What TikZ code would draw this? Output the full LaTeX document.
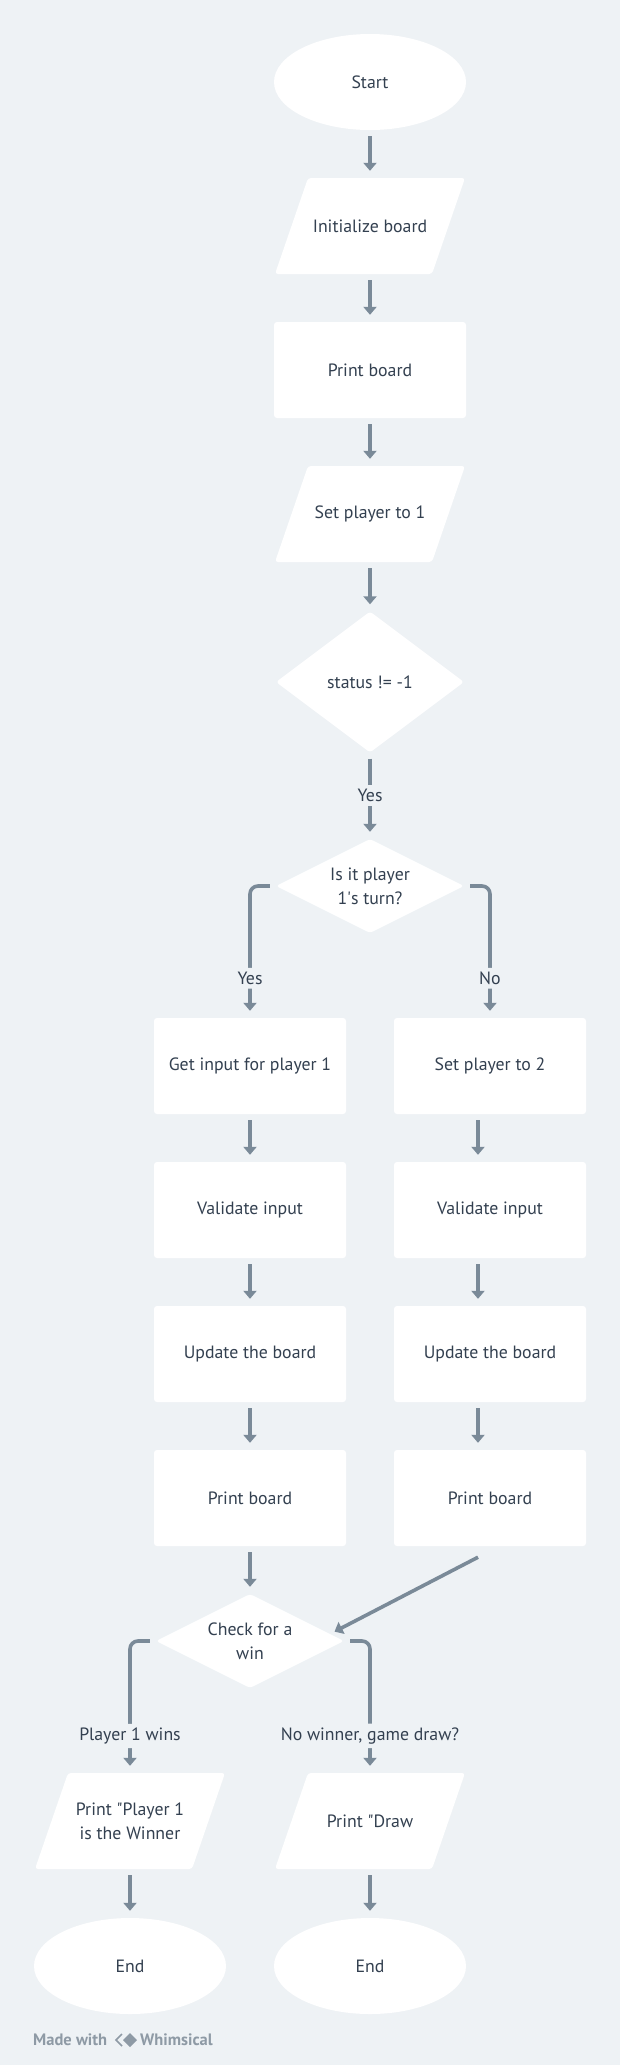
\documentclass[tikz,border=0pt]{standalone}
\usepackage{fontspec}
\setmainfont{PT Sans}
\usetikzlibrary{shapes.geometric, positioning, arrows.meta, calc}

\definecolor{bgc}{HTML}{EEF2F5}
\definecolor{linec}{HTML}{7A8A98}
\definecolor{textc}{HTML}{334050}
\definecolor{creditc}{HTML}{8E9AA5}

\tikzset{
  base/.style={fill=white, text=textc, font=\fontsize{17.8}{24}\selectfont, align=center, inner sep=1pt},
  terminal/.style={base, ellipse, minimum width=192pt, minimum height=96pt},
  process/.style={base, rectangle, rounded corners=3pt, minimum width=192pt, minimum height=96pt},
  iobox/.style={base, fill=none, rectangle, minimum width=190pt, minimum height=96pt,
    path picture={
      \fill[white, rounded corners=3pt] ([xshift=33pt]path picture bounding box.north west)
        -- (path picture bounding box.north east) -- ([xshift=-33pt]path picture bounding box.south east)
        -- (path picture bounding box.south west) -- cycle;
    }},
  decision/.style={base, diamond, shape aspect=2, rounded corners=3pt, minimum width=188pt, minimum height=94pt},
  arr/.style={draw=linec, line width=3.6pt, -{Triangle[width=13pt,length=8pt]}, shorten <=6pt, shorten >=7pt},
  elbow/.style={rounded corners=8pt},
  lbl/.style={fill=bgc, text=textc, font=\fontsize{17.8}{20}\selectfont, inner xsep=3pt, inner ysep=4pt},
  credit/.style={text=creditc, font=\fontsize{16.5}{18}\selectfont\bfseries, inner sep=0pt}
}

\begin{document}
\begin{tikzpicture}[x=1pt, y=-1pt]
% fond
\fill[bgc] (0,0) rectangle (620,2065);
\useasboundingbox (0,0) rectangle (620,2065);
% main column
\node[terminal] (start) at (370,82) {Start};
\node[iobox] (init) at (370,226) {Initialize board};
\node[process] (prt) at (370,370) {Print board};
\node[iobox] (setp) at (370,514) {Set player to 1};
\node[decision, minimum height=141pt] (stat) at (370,682) {status != -1};
\node[decision] (turn) at (370,886) {Is it player\\ 1\textquotesingle s turn?};
% two columns
\node[process] (inp1) at (250,1066) {Get input for player 1};
\node[process] (inp2) at (490,1066) {Set player to 2};
\foreach \c/\x in {1/250,2/490} {
  \node[process] (val\c) at (\x,1210) {Validate input};
  \node[process] (upd\c) at (\x,1354) {Update the board};
  \node[process] (prt\c) at (\x,1498) {Print board};
}
\node[decision] (win) at (250,1641) {Check for a\\ win};
\node[iobox] (msg1) at (130,1821) {Print \textquotedbl Player 1\\ is the Winner};
\node[iobox] (msg2) at (370,1821) {Print \textquotedbl Draw};
\node[terminal] (end1) at (130,1966) {End};
\node[terminal] (end2) at (370,1966) {End};
% edges
\draw[arr] (start) -- (init);
\draw[arr] (init) -- (prt);
\draw[arr] (prt) -- (setp);
\draw[arr] (setp) -- (stat);
\draw[arr] (stat) -- node[lbl] {Yes} (turn);
\draw[arr, elbow] (turn.west) -| node[lbl, pos=0.85] {Yes} (inp1);
\draw[arr, elbow] (turn.east) -| node[lbl, pos=0.85] {No} (inp2);
\foreach \a/\b in {inp1/val1, val1/upd1, upd1/prt1, prt1/win} {
  \draw[arr] (\a) -- (\b);
}
\foreach \a/\b in {inp2/val2, val2/upd2, upd2/prt2} {
  \draw[arr] ([xshift=-12pt]\a.south) -- ([xshift=-12pt]\b.north);
}
\draw[arr, shorten <=0pt, shorten >=5pt] ([xshift=-12pt,yshift=-11pt]prt2.south) -- ($(win.east)!0.15!(win.north)$);
\draw[arr, elbow] (win.west) -| node[lbl, pos=0.86] {Player 1 wins} (msg1);
\draw[arr, elbow] (win.east) -| node[lbl, pos=0.86] {No winner, game draw?} (msg2);
\draw[arr] (msg1) -- (end1);
\draw[arr] (msg2) -- (end2);
% credit
\node[credit, anchor=west] (made) at (33,2040) {Made with};
\draw[creditc, line width=1.6pt] (122,2034) -- (116,2040) -- (122,2046);
\fill[creditc] (130,2033) -- (137,2040) -- (130,2047) -- (123,2040) -- cycle;
\node[credit, anchor=west] (whim) at (140,2040) {Whimsical};
\end{tikzpicture}
\end{document}
